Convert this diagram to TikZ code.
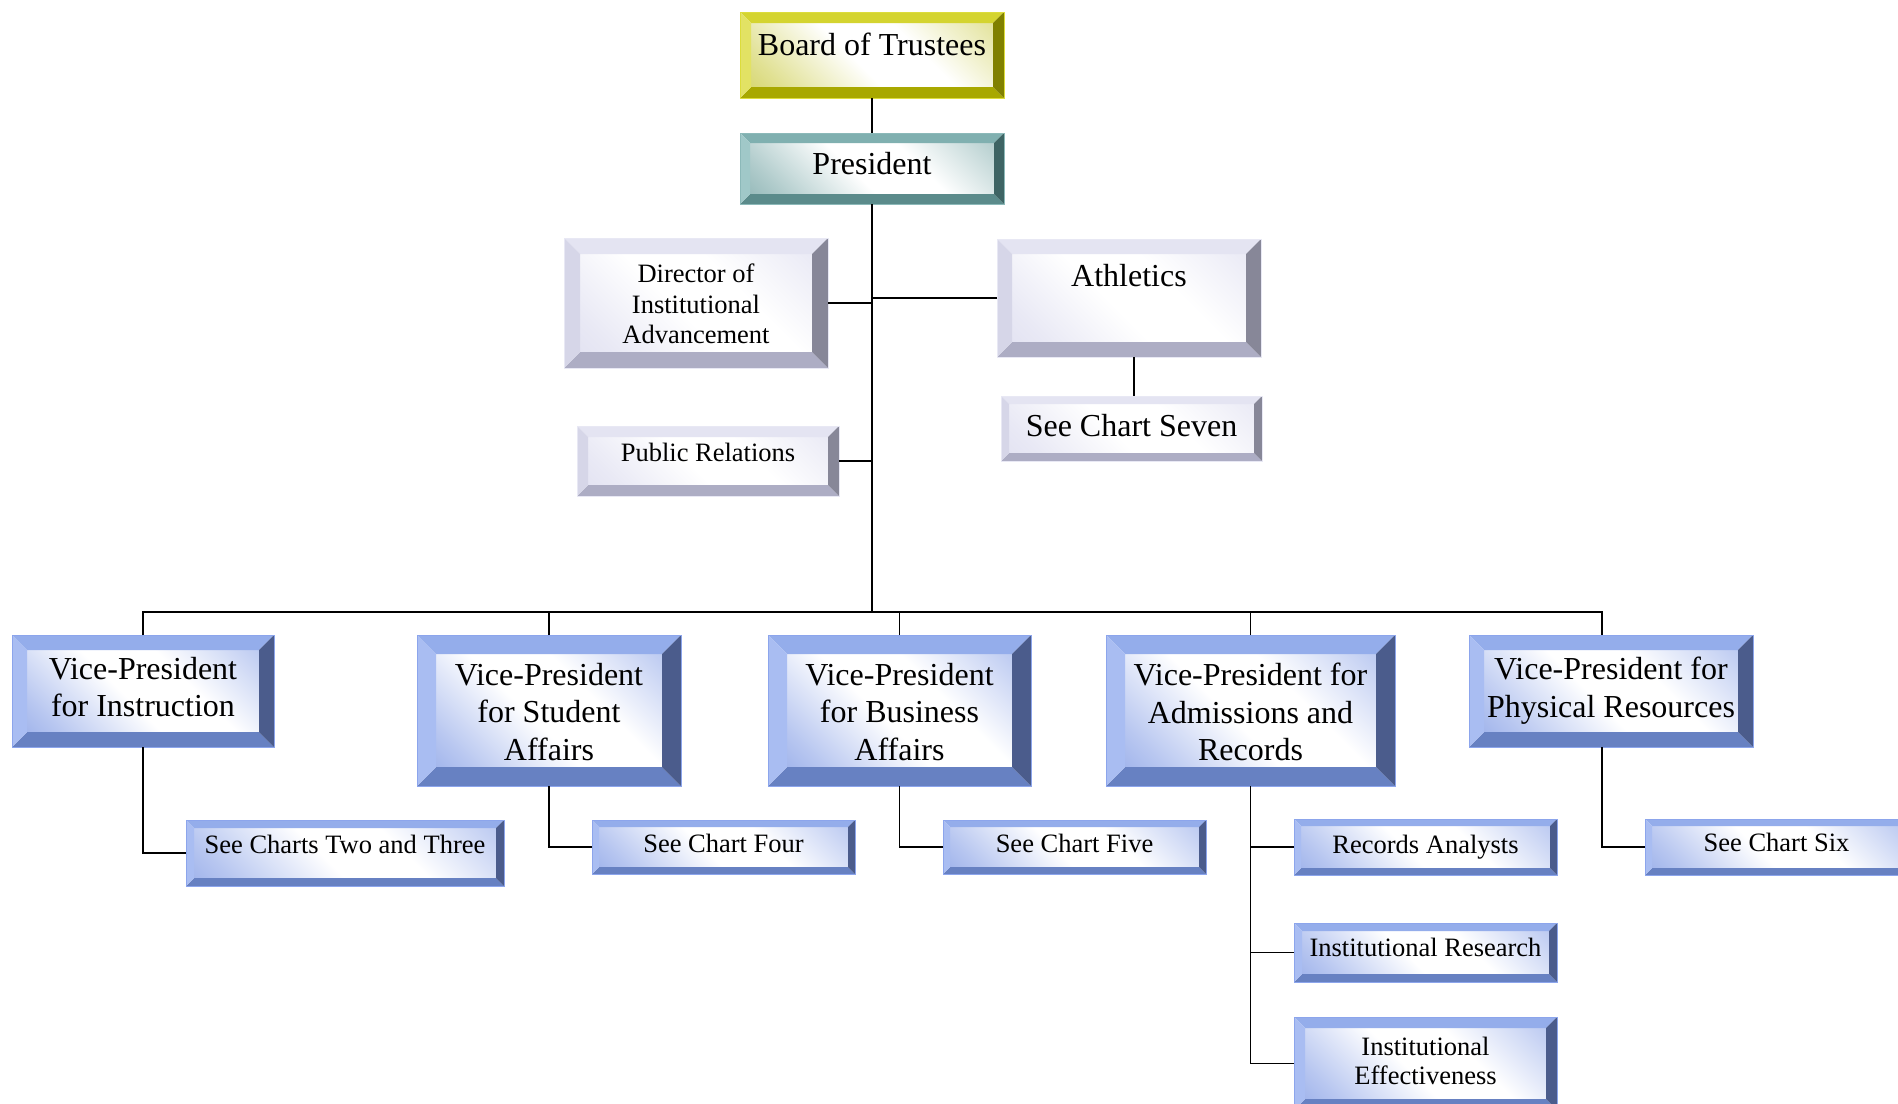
\documentclass[tikz,border=0pt]{standalone}
\usepackage{fontspec}
\setmainfont{Liberation Serif}
\definecolor{bTop}{RGB}{148,173,235}
\definecolor{bLeft}{RGB}{169,189,242}
\definecolor{bRight}{RGB}{75,92,140}
\definecolor{bBot}{RGB}{103,129,194}
\definecolor{bFace}{RGB}{125,152,228}
\definecolor{bLine}{RGB}{140,165,236}
\definecolor{gTop}{RGB}{228,228,242}
\definecolor{gLeft}{RGB}{214,214,232}
\definecolor{gRight}{RGB}{135,135,152}
\definecolor{gBot}{RGB}{173,173,196}
\definecolor{gFace}{RGB}{218,218,238}
\definecolor{gLine}{RGB}{232,232,244}
\definecolor{yTop}{RGB}{212,212,48}
\definecolor{yLeft}{RGB}{226,226,100}
\definecolor{yRight}{RGB}{128,128,0}
\definecolor{yBot}{RGB}{168,168,0}
\definecolor{yFace}{RGB}{200,200,60}
\definecolor{yLine}{RGB}{220,220,60}
\definecolor{tTop}{RGB}{128,176,176}
\definecolor{tLeft}{RGB}{160,200,200}
\definecolor{tRight}{RGB}{62,100,100}
\definecolor{tBot}{RGB}{91,139,139}
\definecolor{tFace}{RGB}{110,160,160}
\definecolor{tLine}{RGB}{140,185,185}
\pgfdeclareverticalshading{bfaceshade}{100bp}{color(0bp)=(bFace); color(22bp)=(bFace!55!white); color(45bp)=(white); color(62bp)=(white); color(85bp)=(bFace!50!white); color(100bp)=(bFace)}
\pgfdeclareverticalshading{gfaceshade}{100bp}{color(0bp)=(gFace); color(22bp)=(gFace!60!white); color(45bp)=(white); color(62bp)=(white); color(85bp)=(gFace!55!white); color(100bp)=(gFace)}
\pgfdeclareverticalshading{yfaceshade}{100bp}{color(0bp)=(yFace); color(22bp)=(yFace!55!white); color(45bp)=(white); color(62bp)=(white); color(85bp)=(yFace!50!white); color(100bp)=(yFace)}
\pgfdeclareverticalshading{tfaceshade}{100bp}{color(0bp)=(tFace); color(22bp)=(tFace!55!white); color(45bp)=(white); color(62bp)=(white); color(85bp)=(tFace!50!white); color(100bp)=(tFace)}
\tikzset{
  conn/.style={line width=1.8pt, black},
  boxframe/.style={inner sep=0pt, outer sep=0pt, draw=none, rectangle},
  txt/.style={anchor=north, inner sep=0pt, align=center, text=black},
  btop/.style={fill=bTop}, bleft/.style={fill=bLeft}, bright/.style={fill=bRight}, bbot/.style={fill=bBot},
  bface/.style={shading=bfaceshade, shading angle=-45},
  bline/.style={draw=bLine, line width=1pt},
  gtop/.style={fill=gTop}, gleft/.style={fill=gLeft}, gright/.style={fill=gRight}, gbot/.style={fill=gBot},
  gface/.style={shading=gfaceshade, shading angle=-45},
  gline/.style={draw=gLine, line width=1pt},
  ytop/.style={fill=yTop}, yleft/.style={fill=yLeft}, yright/.style={fill=yRight}, ybot/.style={fill=yBot},
  yface/.style={shading=yfaceshade, shading angle=-45},
  yline/.style={draw=yLine, line width=1pt},
  ttop/.style={fill=tTop}, tleft/.style={fill=tLeft}, tright/.style={fill=tRight}, tbot/.style={fill=tBot},
  tface/.style={shading=tfaceshade, shading angle=-45},
  tline/.style={draw=tLine, line width=1pt},
}
\newcommand\fsz[2]{\fontsize{#1}{#2}\selectfont}
% name, L, T, R, B, bevel, scheme
\newcommand\bevbox[7]{%
  \pgfmathsetmacro\bxL{#2}\pgfmathsetmacro\bxT{#3}\pgfmathsetmacro\bxR{#4}\pgfmathsetmacro\bxB{#5}%
  \pgfmathsetmacro\inL{#2+#6}\pgfmathsetmacro\inT{#3+#6}\pgfmathsetmacro\inR{#4-#6}\pgfmathsetmacro\inB{#5-#6}%
  \pgfmathsetmacro\ctX{(#2+#4)/2}\pgfmathsetmacro\ctY{(#3+#5)/2}%
  \pgfmathsetmacro\bxW{#4-#2}\pgfmathsetmacro\bxH{#5-#3}%
  \shade[#7face] (\inL,\inT) rectangle (\inR,\inB);
  \fill[#7top] (\bxL,\bxT) -- (\bxR,\bxT) -- (\inR,\inT) -- (\inL,\inT) -- cycle;
  \fill[#7bot] (\bxL,\bxB) -- (\bxR,\bxB) -- (\inR,\inB) -- (\inL,\inB) -- cycle;
  \fill[#7left] (\bxL,\bxT) -- (\inL,\inT) -- (\inL,\inB) -- (\bxL,\bxB) -- cycle;
  \fill[#7right] (\bxR,\bxT) -- (\inR,\inT) -- (\inR,\inB) -- (\bxR,\bxB) -- cycle;
  \draw[#7line] (\bxL,\bxT) rectangle (\bxR,\bxB);
  \node[boxframe, minimum width=\bxW pt, minimum height=\bxH pt] (#1) at (\ctX,\ctY) {};
}
\begin{document}
\begin{tikzpicture}[x=1pt, y=-1pt]
\clip (0,0) rectangle (1898,1103);
\fill[white] (0,0) rectangle (1898,1103);

\coordinate (busL) at (143,612);
\coordinate (busR) at (1602,612);

% boxes
\bevbox{board}{740}{12}{1004}{98}{11}{y}
\bevbox{pres}{740}{133}{1004}{204}{10}{t}
\bevbox{dir}{564}{238}{828}{368}{16}{g}
\bevbox{ath}{997}{239}{1261}{357}{15}{g}
\bevbox{sev}{1001}{396}{1262}{461}{8}{g}
\bevbox{pr}{577}{426}{839}{496}{11}{g}
\bevbox{vpa}{12}{635}{274}{747}{15}{b}
\bevbox{vpb}{417}{635}{681}{786}{19}{b}
\bevbox{vpc}{768}{635}{1031}{786}{19}{b}
\bevbox{vpd}{1106}{635}{1395}{786}{19}{b}
\bevbox{vpe}{1469}{635}{1753}{747}{15}{b}
\bevbox{sca}{186}{820}{504}{886}{8}{b}
\bevbox{scb}{592}{820}{855}{874}{7}{b}
\bevbox{scc}{943}{820}{1206}{874}{7}{b}
\bevbox{ra}{1294}{819}{1557}{875}{7}{b}
\bevbox{ir}{1294}{923}{1557}{982}{8}{b}
\bevbox{ie}{1294}{1017}{1557}{1110}{11}{b}
\bevbox{scd}{1645}{819}{1908}{875}{7}{b}

% connectors
\draw[conn] (board) -- (pres);
\draw[conn] (pres.south) -- (pres.south |- busL);
\draw[conn] (dir.east) -- (dir.east -| pres.south);
\draw[conn] (ath.west) -- (ath.west -| pres.south);
\draw[conn] (pr.east) -- (pr.east -| pres.south);
\draw[conn] ([xshift=5pt]ath.south) -- ([xshift=5pt]ath.south |- sev.north);
\draw[conn, line join=miter] (vpa.north) -- (vpa.north |- busL) -- (busR) -- (busR |- vpe.north);
\draw[conn] (vpb.north) -- (vpb.north |- busL);
\draw[conn] (vpc.north) -- (vpc.north |- busL);
\draw[conn] (vpd.north) -- (vpd.north |- busL);
\draw[conn] (vpa.south) |- (sca.west);
\draw[conn] (vpb.south) |- (scb.west);
\draw[conn] (vpc.south) |- (scc.west);
\draw[conn] (vpd.south) |- (ie.west);
\draw[conn] (vpd.south |- ra.west) -- (ra.west);
\draw[conn] (vpd.south |- ir.west) -- (ir.west);
\draw[conn] (busR |- vpe.south) |- (scd.west);

% texts
\node[txt, font=\fsz{32}{37.5}] (boardT) at (872,33) {Board of Trustees};
\node[txt, font=\fsz{32}{37.5}] (presT) at (872,152) {President};
\node[txt, font=\fsz{26.5}{30.5}] (dirT) at (696,264) {Director of\\Institutional\\Advancement};
\node[txt, font=\fsz{32}{37.5}] (athT) at (1129,264) {Athletics};
\node[txt, font=\fsz{32}{37.5}] (sevT) at (1131.5,414) {See Chart Seven};
\node[txt, font=\fsz{26.5}{30.5}] (prT) at (708,443) {Public Relations};
\node[txt, font=\fsz{32}{37.5}] (vpaT) at (143,657) {Vice-President\\for Instruction};
\node[txt, font=\fsz{32}{37.5}] (vpbT) at (549,663) {Vice-President\\for Student\\Affairs};
\node[txt, font=\fsz{32}{37.5}] (vpcT) at (899.5,663) {Vice-President\\for Business\\Affairs};
\node[txt, font=\fsz{32}{37.5}] (vpdT) at (1250.5,663) {Vice-President for\\Admissions and\\Records};
\node[txt, font=\fsz{32}{37.5}] (vpeT) at (1611,657) {Vice-President for\\Physical Resources};
\node[txt, font=\fsz{26.5}{30.5}] (scaT) at (345,835) {See Charts Two and Three};
\node[txt, font=\fsz{26.5}{30.5}] (scbT) at (723.5,834) {See Chart Four};
\node[txt, font=\fsz{26.5}{30.5}] (sccT) at (1074.5,834) {See Chart Five};
\node[txt, font=\fsz{26.5}{30.5}] (raT) at (1425.5,835) {Records Analysts};
\node[txt, font=\fsz{26.5}{30.5}] (irT) at (1425.5,938) {Institutional Research};
\node[txt, font=\fsz{26.5}{29}] (ieT) at (1425.5,1037) {Institutional\\Effectiveness};
\node[txt, font=\fsz{26.5}{30.5}] (scdT) at (1776.5,833) {See Chart Six};
\end{tikzpicture}
\end{document}
